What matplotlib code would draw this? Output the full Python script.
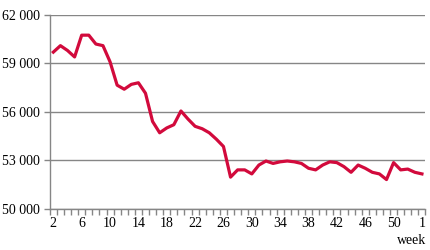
import matplotlib
matplotlib.use('Agg')
import matplotlib.pyplot as plt
from matplotlib.ticker import FixedLocator, FuncFormatter

# week numbers (2..53 then week 1 of next year)
weeks = [2, 3, 4, 5, 6, 7, 8, 9, 10, 11, 12, 13, 14, 15, 16, 17, 18, 19, 20,
         21, 22, 23, 24, 25, 26, 27, 28, 29, 30, 31, 32, 33, 34, 35, 36, 37,
         38, 39, 40, 41, 42, 43, 44, 45, 46, 47, 48, 49, 50, 51, 52, 53, 1]
values = [59700, 60100, 59800, 59400, 60750, 60750, 60200, 60100, 59100, 57650,
          57400, 57700, 57800, 57150, 55400, 54700, 55000, 55200, 56050, 55550,
          55100, 54950, 54700, 54300, 53850, 51950, 52400, 52400, 52150, 52700,
          52950, 52800, 52900, 52950, 52900, 52800, 52500, 52400, 52700, 52900,
          52850, 52600, 52250, 52700, 52500, 52250, 52150, 51800, 52850, 52400,
          52450, 52250, 52150]
y_ticks = [50000, 53000, 56000, 59000, 62000]

plt.rcParams['font.family'] = ['Liberation Serif', 'DejaVu Serif']
grey = '#868686'

fig = plt.figure(figsize=(4.3, 2.5), dpi=100)
ax = fig.add_axes([0.1158, 0.1656, 0.8737, 0.7744])

x = list(range(len(weeks)))
ax.plot(x, values, color='#D20A3C', lw=2.3, solid_joinstyle='round', zorder=3)

ax.set_xlim(-0.5, len(weeks) - 0.5)
ax.set_ylim(y_ticks[0], y_ticks[-1])

# y axis
ax.set_yticks(y_ticks)
ax.yaxis.set_major_formatter(FuncFormatter(lambda v, p: '{:,}'.format(int(v)).replace(',', ' ')))
ax.yaxis.grid(True, color=grey, lw=1.0)
ax.tick_params(axis='y', length=4, width=1, color=grey, pad=3, labelsize=10)

# x axis: tick marks between categories, label every 4th week
ax.xaxis.set_minor_locator(FixedLocator([i - 0.5 for i in range(len(weeks) + 1)]))
lab_pos = list(range(0, len(weeks), 4))
ax.set_xticks(lab_pos)
ax.set_xticklabels([str(weeks[i]) for i in lab_pos])
ax.tick_params(axis='x', which='major', length=0, pad=6, labelsize=10)
ax.tick_params(axis='x', which='minor', length=4, width=1, color=grey)

for s in ['top', 'right']:
    ax.spines[s].set_visible(False)
for s in ['left', 'bottom']:
    ax.spines[s].set_color(grey)
    ax.spines[s].set_linewidth(1.0)

fig.text(0.991, 0.026, 'week', ha='right', va='baseline', fontsize=10)

fig.savefig('out.png', dpi=100)
